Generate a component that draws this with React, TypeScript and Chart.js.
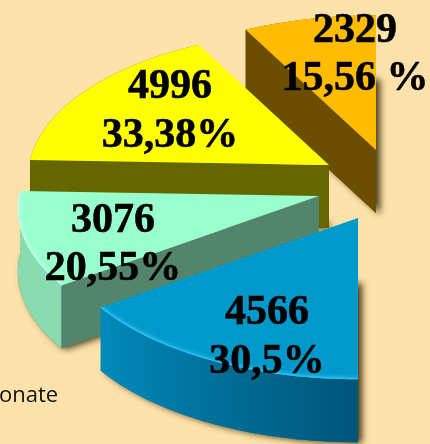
import React, { useEffect, useRef } from "react";
import { Chart, registerables } from "chart.js";

Chart.register(...registerables);

const categories = ["Blue", "Green", "Yellow", "Orange"];
const values = [4566, 3076, 4996, 2329];
const percentLabels = ["30,5%", "20,55%", "33,38%", "15,56 %"];
const legendFragment = "onate";

const topColors = ["#0099CC", "#99FFCC", "#FFFF00", "#FFBC00"];
const radialColors = ["#00779F", "#52856B", "#666600", "#6B4E00"];
const apexes = [[358, 218], [319, 196], [329, 165], [376, 150]];
const labelAnchors = [[267, 324, 373], [113, 232, 280], [170, 98, 147], [355, 42, 90]];

const RX = 300, RY = 148, KX = 0.085, KY = 0.09, DEPTH = 63;

type Pt = [number, number];

function project(apex: number[], phi: number): Pt {
  const u = Math.cos(phi), v = Math.sin(phi);
  return [apex[0] + u * RX * (1 + KX * v), apex[1] + v * RY * (1 + KY * v)];
}

function trace(ctx: CanvasRenderingContext2D, pts: Pt[], dy = 0) {
  pts.forEach((p, i) => (i ? ctx.lineTo(p[0], p[1] + dy) : ctx.moveTo(p[0], p[1] + dy)));
  ctx.closePath();
}

const pie3d = {
  id: "pie3d",
  beforeDatasetDraw: () => false,
  afterDatasetsDraw(chart: any) {
    const ctx: CanvasRenderingContext2D = chart.ctx;
    const arcs = chart.getDatasetMeta(0).data;
    ctx.save();

    for (let i = arcs.length - 1; i >= 0; i--) {
      const { startAngle, endAngle } = arcs[i];
      const apex = apexes[i];
      const arcPts: Pt[] = [];
      const n = 40;
      for (let k = 0; k <= n; k++) arcPts.push(project(apex, startAngle + ((endAngle - startAngle) * k) / n));
      const top: Pt[] = [[apex[0], apex[1]], ...arcPts];
      const near = i === 3 ? arcPts[0] : arcPts[0];
      const first = arcPts[0];
      const last = arcPts[n];
      const shiftedArc = [...arcPts].reverse().map((p) => [p[0], p[1] + DEPTH] as Pt);
      const outerWall: Pt[] = [...arcPts, ...shiftedArc];
      const startWall: Pt[] = [[apex[0], apex[1]], near, [near[0], near[1] + DEPTH], [apex[0], apex[1] + DEPTH]];
      // slice 3 (orange) and slice 2 (yellow) show a radial face at the low edge of the arc
      // slice 1 (green) shows one too; slice 0 (blue) shows only its curved wall.

      // soft shadow cast by the slice's underside only
      ctx.save();
      ctx.shadowColor = "rgba(50,35,0,0.9)";
      ctx.shadowBlur = 7;
      ctx.shadowOffsetX = 4;
      ctx.shadowOffsetY = 1;
      ctx.fillStyle = radialColors[i];
      ctx.beginPath();
      trace(ctx, top, DEPTH);
      ctx.fill();
      ctx.restore();

      // outer curved wall
      if (i === 0) {
        const g = ctx.createLinearGradient(first[0], 0, last[0], 0);
        g.addColorStop(0, "#00557A");
        g.addColorStop(0.12, "#005A7E");
        g.addColorStop(0.55, "#006F99");
        g.addColorStop(1, "#008ABB");
        ctx.fillStyle = g;
      } else if (i === 1) {
        ctx.fillStyle = "#88DCB0";
      } else {
        ctx.fillStyle = radialColors[i];
      }
      ctx.beginPath();
      trace(ctx, outerWall);
      ctx.fill();

      // radial wall facing the viewer
      if (i > 0) {
        ctx.fillStyle = radialColors[i];
        ctx.beginPath();
        trace(ctx, startWall);
        ctx.fill();
      }

      // top face
      ctx.fillStyle = topColors[i];
      ctx.beginPath();
      trace(ctx, top);
      ctx.fill();

      // bevel highlight along the rim, kept inside the face
      if (i < 2) {
        ctx.save();
        ctx.beginPath();
        trace(ctx, top);
        ctx.clip();
        const rim = i === 0 ? "45,190,240" : "190,255,230";
        [[9, 0.22], [5, 0.45], [2.5, 1]].forEach(([w, a]) => {
          ctx.strokeStyle = `rgba(${rim},${a})`;
          ctx.lineWidth = w;
          ctx.beginPath();
          arcPts.forEach((p, k) => (k ? ctx.lineTo(p[0], p[1]) : ctx.moveTo(p[0], p[1])));
          ctx.stroke();
        });
        ctx.restore();
      }
    }

    // labels
    ctx.fillStyle = "#000";
    ctx.strokeStyle = "#000";
    ctx.lineWidth = 0.6;
    ctx.font = 'bold 42px "Liberation Serif"';
    ctx.textAlign = "center";
    ctx.textBaseline = "alphabetic";
    for (let i = 0; i < values.length; i++) {
      const [x, y1, y2] = labelAnchors[i];
      ctx.fillText(String(values[i]), x, y1);
      ctx.strokeText(String(values[i]), x, y1);
      ctx.fillText(percentLabels[i], x, y2);
      ctx.strokeText(percentLabels[i], x, y2);
    }

    ctx.font = '22px "Open Sans"';
    ctx.textAlign = "left";
    ctx.fillStyle = "#111";
    ctx.fillText(legendFragment, -1, 402);
    ctx.restore();
  },
};

export default function App() {
  const ref = useRef<HTMLCanvasElement>(null);
  useEffect(() => {
    const chart = new Chart(ref.current!, {
      type: "pie",
      data: {
        labels: categories,
        datasets: [{ data: values, backgroundColor: topColors, borderWidth: 0 }],
      },
      options: {
        responsive: false,
        animation: false,
        rotation: 180,
        circumference: 180,
        plugins: { legend: { display: false }, tooltip: { enabled: false } },
      },
      plugins: [pie3d],
    } as any);
    return () => chart.destroy();
  }, []);
  return (
    <div style={{ position: "fixed", left: 0, top: 0, width: 430, height: 444, background: "#FDE3AB", overflow: "hidden" }}>
      <canvas ref={ref} width={430} height={444} style={{ display: "block" }} />
    </div>
  );
}
